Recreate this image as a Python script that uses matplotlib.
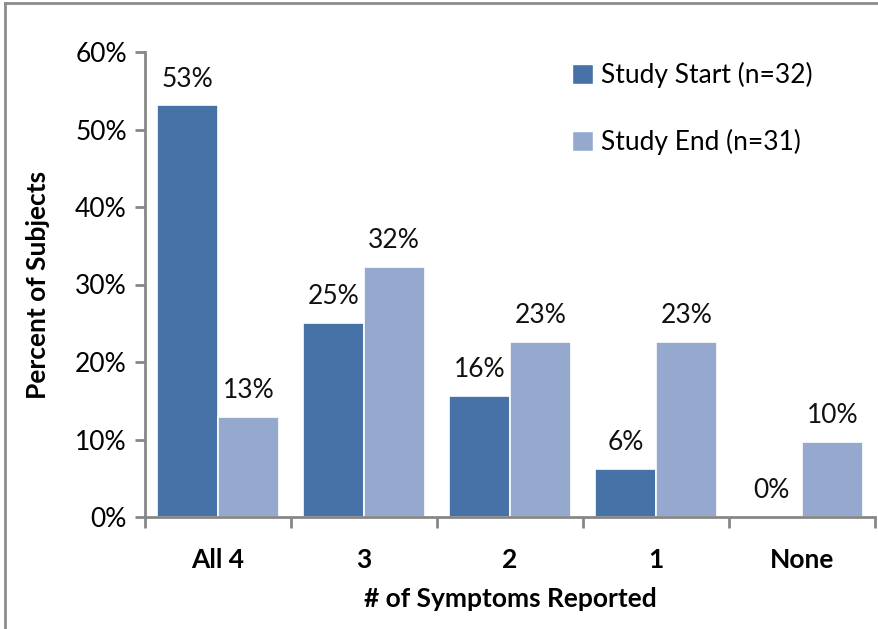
import matplotlib
matplotlib.use("Agg")
import matplotlib.pyplot as plt
from matplotlib.lines import Line2D
from matplotlib.patches import Rectangle
import numpy as np

plt.rcParams['font.family'] = ['Lato', 'DejaVu Sans']

categories = ["All 4", "3", "2", "1", "None"]
start_pct = [53.1, 25.0, 15.6, 6.25, 0.0]     # Study Start (n=32)
end_pct = [12.9, 32.3, 22.6, 22.6, 9.7]       # Study End (n=31)
series_names = ["Study Start (n=32)", "Study End (n=31)"]
y_ticks = [0, 10, 20, 30, 40, 50, 60]

dark = "#4672A7"
light = "#95A9CF"
axis_gray = "#878787"
fs = 19

fig = plt.figure(figsize=(8.79, 6.29), dpi=100)
ax = fig.add_axes([145 / 879, (629 - 517) / 629, 730 / 879, 465 / 629])

x = np.arange(len(categories))
w = 0.415
b1 = ax.bar(x - w / 2, start_pct, w, color=dark, edgecolor="white", linewidth=1.2)
b2 = ax.bar(x + w / 2, end_pct, w, color=light, edgecolor="white", linewidth=1.2)

for bars, vals in ((b1, start_pct), (b2, end_pct)):
    for rect, v in zip(bars, vals):
        ax.annotate(f"{v:.0f}%", (rect.get_x() + rect.get_width() / 2, v),
                    xytext=(0, 10), textcoords="offset points",
                    ha="center", va="bottom", fontsize=fs, color="#111111")

ax.set_xlim(-0.5, len(categories) - 0.5)
ax.set_ylim(0, 60)
ax.set_yticks(y_ticks)
ax.set_yticklabels([f"{t}%" for t in y_ticks], fontsize=fs)
ax.set_xticks(x)
ax.set_xticklabels(categories, fontsize=fs, fontweight="bold")
ax.tick_params(axis="x", length=0, pad=22)
ax.tick_params(axis="y", length=7, width=2, color=axis_gray, pad=6)

# category boundary ticks hanging below the x axis
ax.set_xticks(np.arange(-0.5, len(categories)), minor=True)
ax.tick_params(axis="x", which="minor", length=8, width=2, color=axis_gray, direction="out")

for side in ("top", "right"):
    ax.spines[side].set_visible(False)
for side in ("left", "bottom"):
    ax.spines[side].set_color(axis_gray)
    ax.spines[side].set_linewidth(2)

ax.set_ylabel("Percent of Subjects", fontsize=fs, fontweight="bold", labelpad=18)
ax.set_xlabel("# of Symptoms Reported", fontsize=fs, fontweight="bold", labelpad=11)

# legend
handles = [Rectangle((0, 0), 1, 1, facecolor=dark, edgecolor="white"),
           Rectangle((0, 0), 1, 1, facecolor=light, edgecolor="white")]
leg = fig.legend(handles, series_names, loc="upper left",
                 bbox_to_anchor=(548 / 879, 1 - 38 / 629), frameon=False,
                 fontsize=19, handlelength=0.8, handleheight=0.8,
                 handletextpad=0.3, labelspacing=1.55)

# outer frame (top and left edges)
fig.add_artist(Line2D([5.5 / 879, 5.5 / 879], [0, 1 - 2.5 / 629],
                      transform=fig.transFigure, color="#8c8c8c", lw=2))
fig.add_artist(Line2D([5.5 / 879, 1], [1 - 2.5 / 629, 1 - 2.5 / 629],
                      transform=fig.transFigure, color="#8c8c8c", lw=2))

fig.savefig("out.png", dpi=100)
